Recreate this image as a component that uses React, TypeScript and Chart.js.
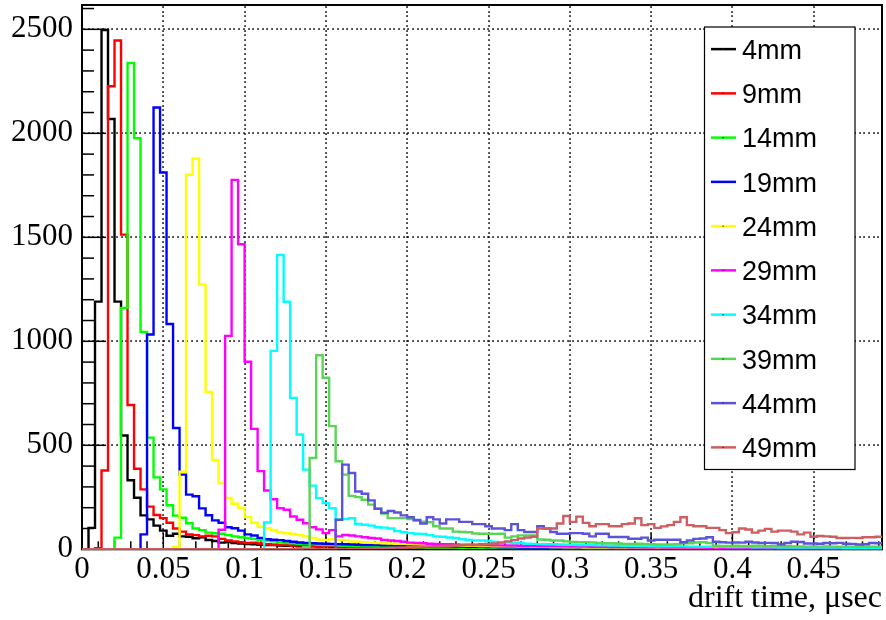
import { useEffect, useRef } from "react";
import { Chart, registerables } from "chart.js";

Chart.register(...registerables);

// ---------- data ----------
const binWidth = 0.004; // µs per histogram bin
const xMin = 0;
const xMax = 0.492;
const yMin = 0;
const yMax = 2617;

const xTickValues = [0, 0.05, 0.1, 0.15, 0.2, 0.25, 0.3, 0.35, 0.4, 0.45];
const xTickLabels = ["0", "0.05", "0.1", "0.15", "0.2", "0.25", "0.3", "0.35", "0.4", "0.45"];
const yTickValues = [0, 500, 1000, 1500, 2000, 2500];
const yTickLabels = ["0", "500", "1000", "1500", "2000", "2500"];
const xMinorStep = 0.01;
const yMinorStep = 100;

const xTitle = "drift time, \u03bcsec";

const seriesNames = ["4mm", "9mm", "14mm", "19mm", "24mm", "29mm", "34mm", "39mm", "44mm", "49mm"];
const seriesColors = [
  "#000000", "#ff0000", "#00ff00", "#0000ff", "#ffff00",
  "#ff00ff", "#00ffff", "#59d454", "#5954d9", "#cf5e61",
];

const counts4mm = [
  0, 103, 1191, 2497, 2069, 1191, 547, 332, 248, 163,
  144, 114, 90, 65, 75, 62, 60, 53, 58, 45,
  40, 32, 35, 30, 28, 25, 24, 22, 20, 21,
  18, 17, 18, 15, 16, 14, 13, 15, 12, 13,
  11, 12, 10, 11, 9, 10, 9, 8, 9, 8,
  7, 8, 7, 6, 7, 6, 6, 5, 6, 5,
  5, 6, 5, 4, 5, 4, 5, 4, 4, 5,
  4, 3, 4, 4, 3, 4, 3, 3, 4, 3,
  3, 3, 2, 3, 3, 2, 3, 2, 3, 2,
  2, 3, 2, 2, 2, 3, 2, 2, 1, 2,
  2, 2, 1, 2, 2, 1, 2, 1, 2, 1,
  1, 2, 1, 1, 2, 1, 1, 1, 2, 1,
  1, 1, 1,
];

const counts9mm = [
  0, 0, 5, 379, 2226, 2446, 1513, 694, 387, 288,
  205, 165, 150, 128, 100, 85, 72, 68, 62, 65,
  62, 50, 42, 38, 34, 30, 32, 28, 24, 22,
  20, 21, 18, 19, 17, 16, 15, 16, 14, 13,
  14, 12, 12, 11, 10, 11, 10, 9, 10, 9,
  8, 9, 8, 7, 8, 7, 7, 6, 7, 6,
  6, 5, 6, 5, 5, 6, 5, 4, 5, 4,
  4, 5, 4, 4, 3, 4, 4, 3, 4, 3,
  3, 4, 3, 3, 3, 2, 3, 3, 2, 3,
  2, 3, 2, 2, 3, 2, 2, 2, 2, 2,
  2, 1, 2, 2, 1, 2, 2, 1, 2, 1,
  1, 2, 1, 2, 1, 1, 2, 1, 1, 1,
  1, 1, 1,
];

const counts14mm = [
  0, 0, 0, 0, 0, 56, 1161, 2338, 1977, 1045,
  537, 346, 288, 212, 162, 152, 125, 100, 92, 80,
  77, 75, 68, 62, 58, 55, 50, 45, 42, 38,
  32, 30, 29, 27, 25, 24, 22, 21, 20, 18,
  17, 17, 16, 15, 14, 14, 13, 12, 12, 11,
  11, 10, 10, 9, 9, 9, 8, 8, 7, 8,
  7, 7, 6, 7, 6, 6, 5, 6, 5, 5,
  5, 5, 4, 5, 4, 4, 4, 4, 3, 4,
  3, 4, 3, 3, 3, 3, 3, 2, 3, 3,
  2, 3, 2, 2, 2, 3, 2, 2, 2, 2,
  2, 2, 1, 2, 2, 1, 2, 2, 1, 2,
  1, 1, 2, 1, 1, 1, 2, 1, 1, 1,
  1, 1, 1,
];

const counts19mm = [
  0, 0, 0, 0, 0, 0, 0, 0, 0, 72,
  1033, 2124, 1812, 1083, 583, 359, 263, 255, 197, 164,
  139, 128, 106, 101, 90, 72, 66, 55, 48, 46,
  44, 40, 36, 33, 30, 29, 28, 27, 26, 25,
  24, 23, 22, 21, 21, 20, 19, 19, 18, 17,
  17, 16, 16, 15, 15, 14, 14, 13, 13, 12,
  12, 12, 11, 11, 10, 10, 10, 9, 9, 9,
  8, 9, 8, 8, 7, 8, 7, 7, 7, 6,
  7, 6, 6, 6, 5, 6, 5, 5, 5, 5,
  4, 5, 4, 4, 5, 4, 4, 4, 3, 4,
  3, 4, 3, 3, 3, 3, 3, 2, 3, 3,
  2, 3, 2, 2, 3, 2, 2, 2, 2, 2,
  2, 2, 2,
];

const counts24mm = [
  0, 0, 0, 0, 0, 0, 0, 0, 0, 0,
  0, 0, 0, 0, 12, 373, 1801, 1879, 1274, 757,
  429, 318, 247, 219, 200, 155, 128, 108, 101, 93,
  82, 77, 74, 68, 62, 54, 46, 45, 48, 45,
  44, 38, 36, 34, 32, 30, 29, 28, 27, 26,
  25, 24, 23, 22, 21, 20, 19, 19, 18, 17,
  17, 16, 16, 15, 15, 14, 14, 13, 13, 12,
  12, 12, 11, 11, 10, 10, 10, 9, 9, 9,
  9, 9, 8, 8, 8, 8, 8, 7, 7, 7,
  7, 7, 6, 6, 6, 6, 6, 6, 5, 5,
  5, 5, 5, 5, 5, 4, 5, 4, 4, 4,
  4, 4, 4, 4, 3, 3, 4, 3, 3, 3,
  3, 3, 3,
];

const counts29mm = [
  0, 0, 0, 0, 0, 0, 0, 0, 0, 0,
  0, 0, 0, 0, 0, 0, 0, 0, 0, 0,
  0, 94, 1026, 1776, 1467, 902, 579, 376, 283, 241,
  198, 190, 158, 142, 125, 106, 96, 78, 92, 62,
  69, 66, 62, 58, 54, 52, 45, 42, 40, 36,
  32, 30, 29, 27, 26, 25, 24, 23, 22, 22,
  21, 20, 20, 19, 19, 18, 18, 17, 16, 16,
  15, 15, 15, 14, 14, 13, 13, 13, 12, 12,
  12, 11, 11, 11, 10, 10, 10, 9, 10, 9,
  9, 9, 8, 8, 8, 8, 7, 8, 7, 7,
  7, 7, 6, 7, 6, 6, 6, 6, 5, 6,
  5, 5, 5, 5, 5, 5, 4, 5, 4, 4,
  4, 4, 4,
];

const counts34mm = [
  0, 0, 0, 0, 0, 0, 0, 0, 0, 0,
  0, 0, 0, 0, 0, 0, 0, 0, 0, 0,
  0, 0, 0, 0, 0, 0, 0, 0, 129, 954,
  1415, 1190, 728, 552, 383, 306, 246, 222, 198, 142,
  145, 150, 122, 118, 114, 106, 104, 100, 88, 82,
  78, 75, 74, 68, 62, 60, 57, 54, 48, 45,
  43, 42, 40, 35, 33, 32, 30, 30, 27, 26,
  25, 24, 24, 23, 22, 22, 21, 20, 20, 19,
  19, 18, 18, 17, 17, 16, 16, 15, 15, 15,
  14, 14, 14, 13, 13, 13, 12, 12, 12, 11,
  11, 11, 11, 10, 10, 10, 10, 9, 9, 9,
  9, 9, 8, 8, 8, 8, 8, 7, 7, 7,
  7, 7, 7,
];

const counts39mm = [
  0, 0, 0, 0, 0, 0, 0, 0, 0, 0,
  0, 0, 0, 0, 0, 0, 0, 0, 0, 0,
  0, 0, 0, 0, 0, 0, 0, 0, 0, 0,
  0, 0, 0, 0, 10, 439, 933, 825, 592, 423,
  359, 257, 251, 238, 215, 195, 172, 150, 150, 150,
  145, 138, 133, 130, 111, 100, 100, 85, 83, 82,
  76, 75, 75, 74, 75, 56, 62, 67, 66, 67,
  47, 46, 42, 42, 38, 35, 34, 34, 33, 30,
  29, 29, 28, 26, 26, 27, 26, 25, 23, 23,
  23, 24, 29, 29, 33, 34, 30, 17, 16, 16,
  17, 16, 15, 17, 16, 15, 16, 14, 15, 14,
  14, 13, 14, 13, 14, 13, 12, 13, 13, 12,
  12, 13, 12,
];

const counts44mm = [
  0, 0, 0, 0, 0, 0, 0, 0, 0, 0,
  0, 0, 0, 0, 0, 0, 0, 0, 0, 0,
  0, 0, 0, 0, 0, 0, 0, 0, 0, 0,
  0, 0, 0, 0, 0, 0, 0, 0, 0, 142,
  407, 367, 278, 267, 235, 195, 176, 184, 177, 163,
  154, 141, 124, 154, 144, 124, 144, 144, 132, 132,
  121, 121, 111, 100, 100, 92, 121, 92, 83, 83,
  111, 100, 83, 75, 75, 78, 78, 75, 62, 75,
  75, 59, 59, 59, 51, 51, 56, 42, 46, 46,
  46, 46, 34, 42, 50, 52, 58, 36, 34, 32,
  33, 32, 36, 33, 30, 31, 30, 24, 30, 36,
  35, 28, 28, 27, 30, 29, 31, 27, 26, 23,
  24, 30, 29,
];

const counts49mm = [
  0, 0, 0, 0, 0, 0, 0, 0, 0, 0,
  0, 0, 0, 0, 0, 0, 0, 0, 0, 0,
  0, 0, 0, 0, 0, 0, 0, 0, 0, 0,
  0, 0, 0, 0, 0, 0, 0, 0, 0, 0,
  0, 0, 0, 0, 2, 4, 5, 6, 8, 9,
  10, 12, 13, 14, 15, 16, 17, 18, 20, 21,
  22, 24, 26, 28, 32, 38, 44, 52, 56, 60,
  100, 98, 100, 124, 160, 132, 157, 127, 111, 121,
  121, 111, 111, 121, 124, 149, 116, 121, 103, 110,
  116, 132, 154, 116, 111, 111, 103, 103, 92, 78,
  82, 100, 95, 80, 90, 98, 85, 90, 90, 85,
  72, 80, 60, 64, 62, 60, 54, 54, 55, 54,
  58, 58, 60,
];

const allCounts = [
  counts4mm, counts9mm, counts14mm, counts19mm, counts24mm,
  counts29mm, counts34mm, counts39mm, counts44mm, counts49mm,
];

// ---------- styling ----------
const SERIF = "'Liberation Serif', 'Times New Roman', serif";
const SANS = "'Liberation Sans', Arial, Helvetica, sans-serif";

function dottedLine(ctx: CanvasRenderingContext2D, x0: number, y0: number, x1: number, y1: number) {
  // ROOT "dotted" grid: small square dots
  const len = Math.hypot(x1 - x0, y1 - y0);
  const step = 4.7;
  const n = Math.floor(len / step);
  for (let i = 0; i <= n; i++) {
    const t = (i * step) / len;
    const px = x0 + (x1 - x0) * t;
    const py = y0 + (y1 - y0) * t;
    ctx.fillRect(Math.round(px) - 0.75, Math.round(py) - 0.75, 1.6, 1.6);
  }
}

const rootStylePlugin = {
  id: "rootStyle",
  beforeDatasetsDraw(chart: any) {
    const { ctx, chartArea: a } = chart;
    const xs = chart.scales.x;
    const ys = chart.scales.y;
    ctx.save();
    // dotted grid at major ticks
    ctx.fillStyle = "#000";
    xTickValues.forEach((v) => {
      if (v === xMin) return;
      const px = xs.getPixelForValue(v);
      dottedLine(ctx, px, a.top + 2, px, a.bottom - 2);
    });
    yTickValues.forEach((v) => {
      if (v === yMin) return;
      const py = ys.getPixelForValue(v);
      dottedLine(ctx, a.left + 2, py, a.right - 2, py);
    });
    // tick marks, drawn inward as in ROOT
    ctx.strokeStyle = "#000";
    ctx.lineWidth = 1.5;
    const nx = Math.floor((xMax - xMin) / xMinorStep + 1e-6);
    for (let i = 0; i <= nx; i++) {
      const px = xs.getPixelForValue(xMin + i * xMinorStep);
      const len = i % 5 === 0 ? 16 : 8;
      ctx.beginPath();
      ctx.moveTo(px, a.bottom);
      ctx.lineTo(px, a.bottom - len);
      ctx.stroke();
    }
    const ny = Math.floor((yMax - yMin) / yMinorStep + 1e-6);
    for (let i = 0; i <= ny; i++) {
      const py = ys.getPixelForValue(yMin + i * yMinorStep);
      const len = i % 5 === 0 ? 24 : 12;
      ctx.beginPath();
      ctx.moveTo(a.left, py);
      ctx.lineTo(a.left + len, py);
      ctx.stroke();
    }
    // frame
    ctx.lineWidth = 2;
    ctx.strokeRect(a.left, a.top, a.right - a.left, a.bottom - a.top);
    ctx.restore();
  },
  afterDatasetsDraw(chart: any) {
    const { ctx, chartArea: a } = chart;
    ctx.save();
    // legend box
    const box = { left: 704.5, top: 27, right: 855, bottom: 469.5 };
    ctx.fillStyle = "#fff";
    ctx.fillRect(box.left, box.top, box.right - box.left, box.bottom - box.top);
    ctx.strokeStyle = "#000";
    ctx.lineWidth = 1.2;
    ctx.strokeRect(box.left, box.top, box.right - box.left, box.bottom - box.top);
    ctx.font = `27px ${SANS}`;
    ctx.textAlign = "left";
    ctx.textBaseline = "alphabetic";
    const rowH = (box.bottom - box.top) / seriesNames.length;
    seriesNames.forEach((name, i) => {
      const cy = box.top + rowH * (i + 0.5);
      ctx.strokeStyle = seriesColors[i];
      ctx.lineWidth = 2.5;
      ctx.beginPath();
      ctx.moveTo(711, cy);
      ctx.lineTo(736, cy);
      ctx.stroke();
      ctx.fillStyle = "#222";
      ctx.fillRect(722.5, cy - 0.5, 1.2, 1.2);
      ctx.fillStyle = "#000";
      ctx.fillText(name, 742, cy + 9.7);
    });
    // x-axis title
    ctx.font = `32px ${SERIF}`;
    ctx.textAlign = "right";
    ctx.fillStyle = "#000";
    ctx.fillText(xTitle, a.right, 607);
    ctx.restore();
  },
};

export default function App() {
  const ref = useRef<HTMLCanvasElement>(null);

  useEffect(() => {
    const canvas = ref.current;
    if (!canvas) return;

    const datasets = allCounts.map((counts, i) => {
      const pts = counts.map((v, k) => ({ x: xMin + k * binWidth, y: v }));
      pts.push({ x: xMin + counts.length * binWidth, y: counts[counts.length - 1] });
      return {
        label: seriesNames[i],
        data: pts,
        borderColor: seriesColors[i],
        backgroundColor: seriesColors[i],
        borderWidth: 2.4,
        pointRadius: 0,
        pointHoverRadius: 0,
        stepped: true,
        fill: false,
        tension: 0,
        order: allCounts.length - i,
      };
    });

    const chart = new Chart(canvas, {
      type: "line",
      data: { datasets: datasets as any },
      plugins: [rootStylePlugin],
      options: {
        responsive: false,
        animation: false,
        events: [],
        layout: { padding: { left: 0, top: 5, right: 4, bottom: 0 } },
        plugins: {
          legend: { display: false },
          tooltip: { enabled: false },
        },
        scales: {
          x: {
            type: "linear",
            min: xMin,
            max: xMax,
            grid: { display: false, drawTicks: false },
            border: { display: false },
            afterBuildTicks: (scale: any) => {
              scale.ticks = xTickValues.map((v) => ({ value: v }));
            },
            afterFit: (scale: any) => {
              scale.height = 70.7;
              scale.paddingLeft = 0;
              scale.paddingRight = 0;
            },
            ticks: {
              autoSkip: false,
              maxRotation: 0,
              minRotation: 0,
              padding: 2,
              color: "#000",
              font: { family: SERIF, size: 31, lineHeight: 1.2 },
              callback: (_v: any, idx: number) => xTickLabels[idx],
            },
          },
          y: {
            type: "linear",
            min: yMin,
            max: yMax,
            grid: { display: false, drawTicks: false },
            border: { display: false },
            afterBuildTicks: (scale: any) => {
              scale.ticks = yTickValues.map((v) => ({ value: v }));
            },
            afterFit: (scale: any) => {
              scale.width = 82;
              scale.paddingTop = 0;
              scale.paddingBottom = 0;
            },
            ticks: {
              autoSkip: false,
              padding: 9,
              color: "#000",
              font: { family: SERIF, size: 31, lineHeight: 1.2 },
              callback: (_v: any, idx: number) => yTickLabels[idx],
            },
          },
        },
      },
    });

    return () => chart.destroy();
  }, []);

  return (
    <div style={{ position: "fixed", left: 0, top: 0, width: 886, height: 620, background: "#fff" }}>
      <canvas ref={ref} width={886} height={620} style={{ width: 886, height: 620, display: "block" }} />
    </div>
  );
}
